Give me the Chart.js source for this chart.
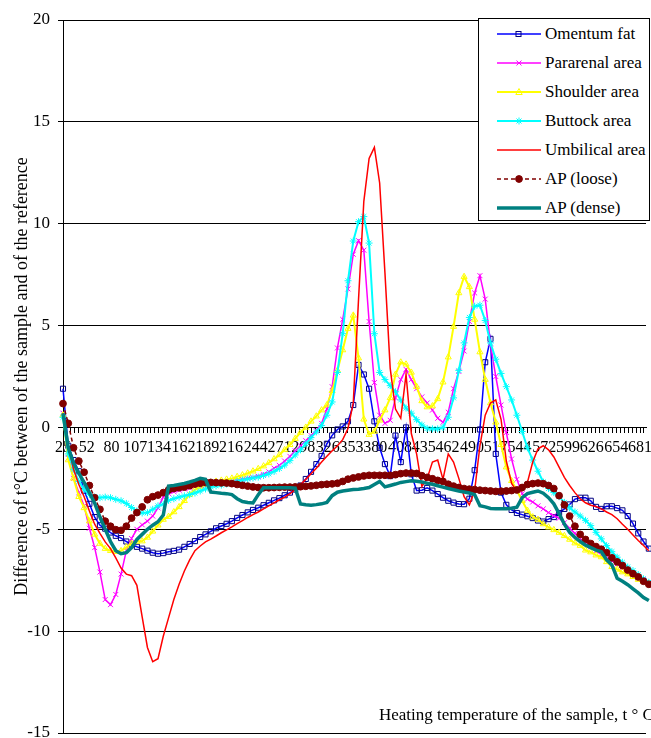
<!DOCTYPE html>
<html>
<head>
<meta charset="utf-8">
<script src="https://cdn.jsdelivr.net/npm/chart.js@4.4.1/dist/chart.umd.min.js"></script>
<style>
  html, body { margin: 0; padding: 0; background: #fff; overflow: hidden; }
  #wrap { position: relative; width: 651px; height: 738px; }
  #legend {
    position: absolute; left: 478px; top: 18px; width: 172px; height: 203px;
    box-sizing: border-box; border: 1px solid #000; background: #fff;
    font-family: "Liberation Serif", serif; font-size: 17px; color: #000;
  }
  .leg-item { position: absolute; left: 18px; height: 20px; display: flex; align-items: center; white-space: nowrap; }
  .leg-item svg { margin-right: 4px; }
</style>
</head>
<body>
<div id="wrap">
  <canvas id="chart" width="651" height="738"></canvas>
  <div id="legend"></div>
</div>
<script>
// heating temperature of each reading, t °C
const temps = [25,31,37,43,49,55,61,67,73,79,85,91,97,103,109,115,121,127,133,139,145,151,157,163,169,175,181,187,193,199,
  205,211,217,223,229,235,241,247,253,259,265,271,277,283,289,295,301,307,313,319,325,331,337,343,349,355,361,367,373,379,
  385,391,397,403,409,415,421,427,433,439,445,451,457,463,469,475,481,487,493,499,505,511,517,523,529,535,541,547,553,559,
  565,571,577,583,589,595,601,607,613,619,625,631,637,643,649,655,661,667,673,679,685,691];

const tickLabels = [25, 52, 80, 107, 134, 162, 189, 216, 244, 271, 298, 326, 353, 380, 408, 435, 462, 490, 517, 544, 572, 599, 626, 654, 681];

const omentumFat = [1.9,-0.9,-1.6,-2.15,-3.1,-3.75,-4.4,-4.8,-4.97,-5.16,-5.32,-5.43,-5.6,-5.75,-5.86,-5.95,-6.05,-6.15,-6.2,-6.17,
  -6.1,-6.06,-6.0,-5.86,-5.72,-5.58,-5.38,-5.25,-5.1,-4.95,-4.84,-4.73,-4.6,-4.44,-4.3,-4.17,-4.05,-3.94,-3.82,-3.7,
  -3.58,-3.47,-3.33,-3.2,-3.05,-2.85,-2.53,-2.18,-1.8,-1.4,-0.8,-0.39,-0.1,0.05,0.3,1.1,3.07,2.6,1.9,0.3,
  -1.0,-1.8,-2.39,-0.4,-1.7,0.0,-2.3,-3.1,-3.08,-2.97,-3.1,-3.27,-3.45,-3.6,-3.69,-3.76,-3.77,-3.5,-2.1,-0.1,
  3.2,4.35,-1.3,-3.2,-3.8,-4.05,-4.2,-4.28,-4.36,-4.45,-4.57,-4.62,-4.5,-4.4,-4.2,-4.0,-3.78,-3.52,-3.45,-3.45,
  -3.6,-3.9,-4.0,-3.87,-3.87,-3.96,-4.07,-4.35,-4.72,-5.2,-5.6,-5.95];

const pararenal = [0.7,-1.5,-2.5,-3.2,-3.85,-4.95,-5.9,-7.1,-8.45,-8.7,-8.2,-7.2,-6.05,-5.45,-5.0,-4.78,-4.6,-4.35,-3.95,-3.42,
  -3.24,-3.15,-3.08,-3.02,-2.98,-2.92,-2.88,-2.85,-2.8,-2.76,-2.72,-2.68,-2.64,-2.6,-2.55,-2.5,-2.46,-2.4,-2.3,-2.18,
  -2.0,-1.86,-1.65,-1.42,-1.15,-0.9,-0.65,-0.4,-0.15,0.2,0.9,2.0,3.9,5.3,6.8,8.5,9.17,8.7,5.2,2.2,
  0.6,0.2,0.35,1.45,2.35,2.85,2.35,1.9,1.5,1.2,0.85,0.45,0.25,0.75,1.9,2.75,3.75,5.2,6.6,7.45,
  6.3,4.1,2.5,1.1,-0.25,-1.55,-2.55,-3.25,-3.52,-3.66,-3.85,-4.0,-4.18,-4.33,-4.46,-4.68,-4.95,-5.2,-5.45,-5.7,
  -5.85,-6.05,-6.25,-6.4,-6.55,-6.7,-6.9,-7.05,-7.2,-7.33,-7.47,-7.6];

const shoulder = [0.6,-1.6,-2.5,-3.4,-3.95,-4.6,-5.25,-5.7,-5.95,-6.05,-6.1,-6.06,-5.88,-5.7,-5.6,-5.58,-5.4,-5.1,-4.8,-4.52,
  -4.38,-4.15,-3.9,-3.6,-3.3,-3.05,-2.92,-2.8,-2.7,-2.65,-2.6,-2.55,-2.5,-2.42,-2.34,-2.25,-2.15,-2.03,-1.9,-1.74,
  -1.55,-1.35,-1.1,-0.85,-0.55,-0.25,0.0,0.3,0.55,0.85,1.1,1.8,2.8,3.8,4.85,5.5,3.4,0.4,-0.35,-0.2,
  0.35,0.85,1.45,2.6,3.2,3.1,2.7,2.0,1.3,1.0,1.05,1.4,2.22,3.45,4.95,6.6,7.4,6.9,5.3,3.7,
  2.35,1.2,0.25,-0.85,-1.95,-2.62,-3.1,-3.6,-4.08,-4.4,-4.52,-4.74,-4.9,-5.03,-5.16,-5.32,-5.5,-5.68,-5.8,-6.03,
  -6.12,-6.27,-6.36,-6.6,-6.84,-6.97,-7.1,-7.2,-7.33,-7.47,-7.57,-7.68];

const buttock = [0.5,-1.3,-2.05,-2.65,-3.05,-3.3,-3.42,-3.45,-3.42,-3.45,-3.53,-3.6,-3.73,-3.93,-4.1,-4.2,-4.18,-4.02,-3.85,-3.77,
  -3.58,-3.5,-3.42,-3.36,-3.3,-3.22,-3.12,-3.02,-2.92,-2.87,-2.83,-2.78,-2.72,-2.64,-2.58,-2.53,-2.48,-2.44,-2.36,-2.28,
  -2.16,-2.02,-1.85,-1.63,-1.35,-1.1,-0.8,-0.5,-0.22,0.1,0.6,1.25,2.7,4.6,7.2,9.15,10.1,10.35,9.05,4.6,
  2.7,2.35,2.05,1.75,1.35,0.95,0.7,0.38,0.12,-0.05,-0.07,-0.07,0.0,0.5,1.45,2.8,4.15,5.4,5.95,6.0,
  5.25,4.15,3.35,2.65,2.0,1.35,0.6,-0.2,-1.0,-1.6,-2.15,-2.68,-3.0,-3.2,-3.4,-3.68,-3.95,-4.15,-4.35,-4.56,
  -4.82,-5.15,-5.47,-5.8,-6.1,-6.37,-6.62,-6.85,-7.03,-7.22,-7.43,-7.6];

const umbilical = [0.7,-0.9,-2.05,-2.8,-3.4,-4.1,-4.75,-5.2,-5.62,-5.95,-6.4,-6.9,-7.2,-7.28,-7.75,-9.3,-10.8,-11.5,-11.35,-10.25,
  -9.35,-8.45,-7.7,-7.05,-6.5,-6.05,-5.82,-5.62,-5.48,-5.33,-5.17,-5.03,-4.88,-4.72,-4.57,-4.42,-4.28,-4.15,-4.0,-3.85,
  -3.7,-3.55,-3.42,-3.25,-3.05,-2.8,-2.55,-2.27,-2.0,-1.7,-1.42,-1.15,-0.9,-0.6,-0.05,1.2,6.3,11.1,13.2,13.75,
  12.0,7.6,2.9,0.9,0.45,2.6,-0.3,-1.3,-2.9,-2.5,-1.7,-1.6,-2.55,-1.3,-1.7,-2.5,-3.4,-3.8,-3.1,-0.9,
  0.6,1.2,1.35,0.4,-1.65,-2.75,-3.15,-3.1,-2.7,-1.7,-1.05,-0.9,-1.1,-1.45,-1.95,-2.45,-2.85,-3.2,-3.5,-3.7,
  -3.82,-3.88,-4.0,-4.15,-4.28,-4.48,-4.75,-5.0,-5.28,-5.55,-5.8,-6.05];

const apLoose = [1.17,0.2,-1.0,-1.65,-2.2,-2.85,-3.45,-4.02,-4.6,-4.85,-5.02,-5.05,-4.85,-4.45,-4.18,-3.9,-3.55,-3.4,-3.32,-3.2,
  -3.07,-3.0,-2.96,-2.93,-2.86,-2.78,-2.74,-2.7,-2.7,-2.71,-2.72,-2.73,-2.76,-2.8,-2.84,-2.88,-2.92,-2.95,-2.96,-2.96,
  -2.95,-2.94,-2.93,-2.93,-2.92,-2.91,-2.89,-2.87,-2.84,-2.81,-2.79,-2.77,-2.74,-2.65,-2.54,-2.48,-2.43,-2.38,-2.35,-2.35,
  -2.35,-2.35,-2.35,-2.32,-2.27,-2.24,-2.24,-2.26,-2.37,-2.45,-2.52,-2.6,-2.65,-2.79,-2.88,-2.95,-3.0,-3.03,-3.05,-3.08,
  -3.1,-3.12,-3.14,-3.13,-3.12,-3.1,-3.07,-2.95,-2.8,-2.76,-2.73,-2.76,-2.85,-3.0,-3.35,-3.8,-4.35,-4.85,-5.25,-5.5,
  -5.7,-5.85,-5.98,-6.15,-6.4,-6.6,-6.78,-7.0,-7.18,-7.34,-7.55,-7.7];

const apDense = [0.7,-1.0,-1.75,-2.25,-2.7,-3.2,-3.72,-4.4,-5.0,-5.6,-6.05,-6.2,-6.15,-5.9,-5.5,-5.25,-5.0,-4.8,-4.63,-4.3,
  -2.88,-2.85,-2.8,-2.75,-2.68,-2.6,-2.5,-2.55,-3.17,-3.2,-3.23,-3.25,-3.3,-3.5,-3.64,-3.68,-3.71,-3.3,-2.96,-2.96,
  -2.96,-2.96,-2.96,-2.96,-2.98,-3.76,-3.8,-3.82,-3.79,-3.75,-3.68,-3.35,-3.18,-3.12,-3.08,-3.05,-3.03,-3.0,-2.95,-2.8,
  -2.65,-2.92,-2.85,-2.78,-2.7,-2.66,-2.62,-2.64,-2.68,-2.74,-2.79,-2.86,-2.93,-3.0,-3.06,-3.12,-3.17,-3.22,-3.3,-3.84,
  -3.9,-3.98,-3.99,-3.99,-3.99,-3.97,-3.92,-3.45,-3.25,-3.18,-3.12,-3.23,-3.45,-3.75,-4.23,-4.75,-5.15,-5.4,-5.6,-5.78,
  -5.9,-6.02,-6.1,-6.5,-6.75,-7.4,-7.55,-7.72,-7.92,-8.12,-8.35,-8.5];

const xTitle = 'Heating temperature of the sample, t \u00B0 C';
const yTitle = 'Difference of t\u00B0C between of the sample and of the reference';

const series = [
  { label: 'Omentum fat',   data: omentumFat, color: '#0000ff', width: 1.5, marker: 'rect',     mColor: '#000080', radius: 3.6, fill: false },
  { label: 'Pararenal area', data: pararenal, color: '#ff00ff', width: 1.5, marker: 'crossRot', mColor: '#ff00ff', radius: 3.5 },
  { label: 'Shoulder area', data: shoulder,   color: '#ffff00', width: 2,   marker: 'triangle', mColor: '#ffff00', radius: 3.5, fill: false },
  { label: 'Buttock area',  data: buttock,    color: '#00ffff', width: 2,   marker: 'star',     mColor: '#00ffff', radius: 3.5 },
  { label: 'Umbilical area', data: umbilical, color: '#ff0000', width: 1.5, marker: false },
  { label: 'AP (loose)',    data: apLoose,    color: '#800000', width: 1.5, marker: 'circle',   mColor: '#800000', radius: 3.4, fill: true, dash: [4, 3] },
  { label: 'AP (dense)',    data: apDense,    color: '#008080', width: 3.5, marker: false }
];

// minor tick marks: 5 between every pair of labelled ticks
const tickValues = [];
tickLabels.forEach((v, i) => {
  const next = tickLabels[i + 1] || v + (v - tickLabels[i - 1]);
  for (let k = 0; k < 6; k++) tickValues.push(v + (next - v) * k / 6);
});

const SERIF = '"Liberation Serif"';
Chart.defaults.font.family = SERIF;
Chart.defaults.color = '#000';

const axisTitles = {
  id: 'axisTitles',
  afterDraw(chart) {
    const { ctx, chartArea } = chart;
    ctx.save();
    ctx.fillStyle = '#000';
    ctx.font = `17px ${SERIF}`;
    ctx.textBaseline = 'alphabetic';
    ctx.fillText(xTitle, 379, 720);
    ctx.font = `18px ${SERIF}`;
    ctx.translate(22, (chartArea.top + chartArea.bottom) / 2);
    ctx.rotate(-Math.PI / 2);
    ctx.textAlign = 'center';
    ctx.textBaseline = 'middle';
    ctx.fillText(yTitle, 0, 0);
    ctx.restore();
  }
};

new Chart(document.getElementById('chart'), {
  type: 'line',
  data: {
    datasets: series.map((s, i) => ({
      label: s.label,
      data: temps.map((t, j) => ({ x: t, y: s.data[j] })),
      borderColor: s.color,
      borderWidth: s.width,
      borderDash: s.dash || [],
      pointStyle: s.marker,
      pointRadius: s.marker ? s.radius : 0,
      pointBorderColor: s.mColor,
      pointBackgroundColor: s.fill ? s.mColor : 'rgba(0,0,0,0)',
      pointBorderWidth: 1,
      tension: 0,
      clip: false,
      order: series.length - i   // later series on top, as in the original
    }))
  },
  options: {
    responsive: false,
    animation: false,
    devicePixelRatio: 1,
    layout: { padding: { top: 20, bottom: 5, left: 0, right: 0 } },
    plugins: { legend: { display: false }, tooltip: { enabled: false } },
    scales: {
      x: {
        type: 'linear',
        position: { y: 0 },
        min: 25,
        max: 687.8,
        afterBuildTicks: s => { s.ticks = tickValues.filter(v => v <= s.max).map(v => ({ value: v })); },
        afterFit: s => { s.paddingLeft = 0; s.paddingRight = 0; },
        ticks: {
          autoSkip: false, maxRotation: 0, minRotation: 0, padding: 6,
          font: { family: SERIF, size: 16 }, color: '#000',
          callback: v => tickLabels.includes(v) ? String(v) : ''
        },
        grid: { drawOnChartArea: false, drawTicks: true, tickLength: 5, tickColor: '#000' },
        border: { color: '#000', width: 1 }
      },
      y: {
        min: -15,
        max: 20,
        afterFit: s => { s.width = 63; s.paddingTop = 0; s.paddingBottom = 0; },
        ticks: { stepSize: 5, font: { family: SERIF, size: 17 }, color: '#000', padding: 8 },
        grid: { color: '#000', lineWidth: 1, tickLength: 5, tickColor: '#000' },
        border: { color: '#000', width: 1 }
      }
    }
  },
  plugins: [axisTitles]
});

// legend box (drawn in html, sits over the plot like the original)
function sampleSvg(s) {
  let mk = '';
  const c = s.mColor;
  if (s.marker === 'rect') mk = `<rect x="19" y="4.5" width="5" height="5" fill="none" stroke="${c}" stroke-width="1"/>`;
  if (s.marker === 'crossRot') mk = `<path d="M19.5 4.5 L24.5 9.5 M24.5 4.5 L19.5 9.5" stroke="${c}" stroke-width="1"/>`;
  if (s.marker === 'triangle') mk = `<path d="M22 3.5 L25.2 9.5 L18.8 9.5 Z" fill="none" stroke="${c}" stroke-width="1"/>`;
  if (s.marker === 'star') mk = `<path d="M22 3.5 V10.5 M18.5 7 H25.5 M19.5 4.5 L24.5 9.5 M24.5 4.5 L19.5 9.5" stroke="${c}" stroke-width="1"/>`;
  if (s.marker === 'circle') mk = `<circle cx="22" cy="7" r="3.4" fill="${c}" stroke="${c}"/>`;
  const dash = s.dash ? `stroke-dasharray="${s.dash.join(' ')}"` : '';
  return `<svg width="44" height="14"><line x1="0" y1="7" x2="44" y2="7" stroke="${s.color}" stroke-width="${s.width}" ${dash}/>${mk}</svg>`;
}
document.getElementById('legend').innerHTML = series.map((s, i) =>
  `<div class="leg-item" style="top:${5.3 + i * 28.9}px">${sampleSvg(s)}<span>${s.label}</span></div>`
).join('');
</script>
</body>
</html>
